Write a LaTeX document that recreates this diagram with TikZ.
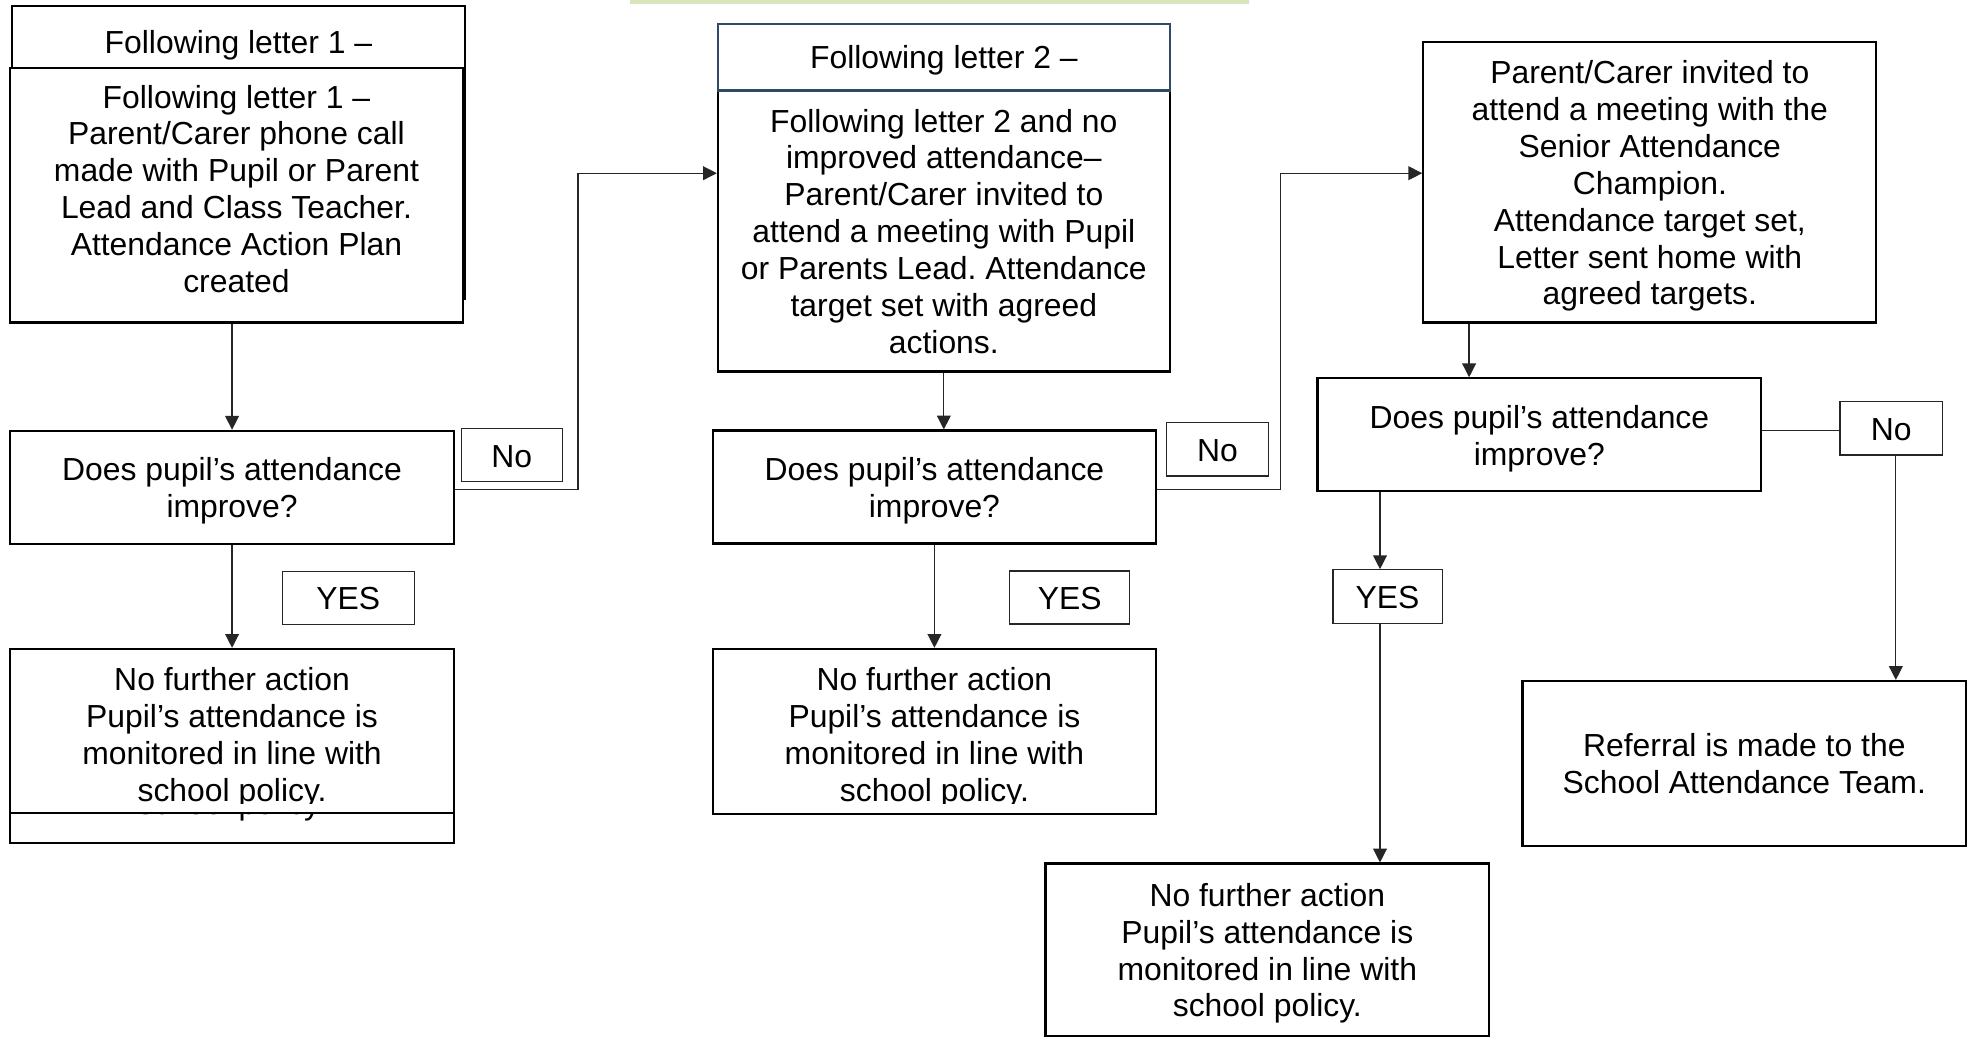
\documentclass[tikz,border=0pt]{standalone}
\usepackage{fontspec}
\setmainfont{Liberation Sans}
\usetikzlibrary{positioning,arrows.meta}
\frenchspacing
\definecolor{barcolor}{RGB}{216,228,188}
\definecolor{headcolor}{RGB}{46,74,102}
\newcommand{\st}{\rule[-5.3pt]{0pt}{29.4pt}}
\tikzset{txt/.style={inner sep=0pt,align=center,font=\fontsize{25.4}{29.4}\selectfont}}
\tikzset{box/.style={txt,draw,line width=1.7pt,fill=white,rectangle}}
\tikzset{tag/.style={txt,draw=black!85,line width=1pt,fill=white}}
\tikzset{conn/.style={-{Triangle[length=11pt,width=11pt]},line width=1pt,draw=black!85}}
\tikzset{link/.style={line width=1pt,draw=black!85}}

\begin{document}
\begin{tikzpicture}[x=1pt,y=-1pt]
  \fill[white] (0,0) rectangle (1568,827);
  \useasboundingbox (0,0) rectangle (1568,827);
  \fill[barcolor] (502,0) rectangle (995,3.5);

  % first letter
  \node[box,minimum width=361pt,minimum height=233.5pt] (a0) at (190,121.25) {};
  \node[txt,anchor=base] (a0t) at (190,43) {Following letter 1 –};
  \node[box,text depth=16.5pt,minimum width=361.2pt,minimum height=202.5pt] (a) at (188.4,155.75)
    {\st Following letter 1 –\\Parent/Carer phone call\\made with Pupil or Parent\\Lead and Class Teacher.\\Attendance Action Plan\\created\st};

  % second letter
  \node[box,minimum width=360pt,minimum height=224pt] (b) at (752,184)
    {\st Following letter 2 and no\\improved attendance–\\Parent/Carer invited to\\attend a meeting with Pupil\\or Parents Lead. Attendance\\target set with agreed\\actions.\st};
  \node[box,draw=headcolor,line width=2pt,minimum width=360pt,minimum height=53pt] (bh) at (752,45.5) {\st Following letter 2 –};

  % meeting
  \node[box,minimum width=361pt,minimum height=223.3pt] (c) at (1314.5,145.35)
    {\st Parent/Carer invited to\\attend a meeting with the\\Senior Attendance\\Champion.\\Attendance target set,\\Letter sent home with\\agreed targets.\st};

  \foreach \nm/\x/\y in {d1/184.9/388.25, d2/744.5/388, d3/1226.5/346.4}
    \node[box,minimum width=353.5pt,minimum height=90pt] (\nm) at (\x,\y) {\st Does pupil’s attendance\\improve?\st};

  \node[tag,minimum width=80.5pt,minimum height=42.2pt] (no1) at (407.75,362.7) {\st No};
  \node[tag,minimum width=81pt,minimum height=42.5pt] (no2) at (970,358) {\st No};
  \node[tag,minimum width=81.5pt,minimum height=42.6pt] (no3) at (1506.75,341.3) {\st No};
  \node[tag,minimum width=105pt,minimum height=41.9pt] (yes1) at (277.5,476.45) {\st YES};
  \node[tag,minimum width=95.4pt,minimum height=42.2pt] (yes2) at (852.3,476.1) {\st YES};
  \node[tag,minimum width=87pt,minimum height=42.7pt] (yes3) at (1105.5,475.35) {\st YES};

  % outcomes
  \node[box,minimum width=354.2pt,minimum height=154.5pt] (n1b) at (184.9,594.25) {};
  \node[txt,anchor=base] (n1bt) at (184.9,648.7) {school policy.};
  \node[box,minimum width=354.2pt,minimum height=131pt] (n1) at (184.9,582.5) {};
  \begin{scope}
    \clip (n1.north west) rectangle ([yshift=8.4pt]n1.south east);
    \node[txt,anchor=north] (n1t) at (184.9,525.9) {\st No further action\\Pupil’s attendance is\\monitored in line with\\school policy.\st};
  \end{scope}
  \node[box,minimum width=353pt,minimum height=131.6pt] (n2) at (744.5,582.8) {};
  \begin{scope}
    \clip (n2.north west) rectangle ([yshift=9pt]n2.south east);
    \node[txt,anchor=north] (n2t) at (744.5,525.9) {\st No further action\\Pupil’s attendance is\\monitored in line with\\school policy.\st};
  \end{scope}
  \node[box,minimum width=353.5pt,minimum height=137.5pt] (n3) at (1009.75,756.75)
    {\st No further action\\Pupil’s attendance is\\monitored in line with\\school policy.\st};
  \node[box,minimum width=353.5pt,minimum height=131.2pt] (r) at (1389.75,608.2)
    {\st Referral is made to the\\School Attendance Team.\st};

  % connectors
  \coordinate (j1) at (460.6,390);
  \coordinate (k1) at (460.6,138);
  \coordinate (j2) at (1020,390);
  \coordinate (k2) at (1020,138);
  \coordinate (j3) at (1170.5,0);
  \coordinate (j4) at (1099.5,0);
  \coordinate (j5) at (0,343);
  \coordinate (j6) at (1510.5,0);

  \draw[conn] (d1.north |- a.south) -- (d1.north);
  \draw[conn] (d1.south) -- (n1.north);
  \draw[conn] (d1.east |- j1) -- (j1) -- (k1) -- (k1 -| b.west);
  \draw[conn] (b.south) -- (b.south |- d2.north);
  \draw[conn] (d2.south) -- (n2.north);
  \draw[conn] (d2.east |- j2) -- (j2) -- (k2) -- (k2 -| c.west);
  \draw[conn] (j3 |- c.south) -- (j3 |- d3.north);
  \draw[conn] (j4 |- d3.south) -- (j4 |- yes3.north);
  \draw[conn] (j4 |- yes3.south) -- (j4 |- n3.north);
  \draw[link] (d3.east |- j5) -- (no3.west |- j5);
  \draw[conn] (j6 |- no3.south) -- (j6 |- r.north);
\end{tikzpicture}
\end{document}
